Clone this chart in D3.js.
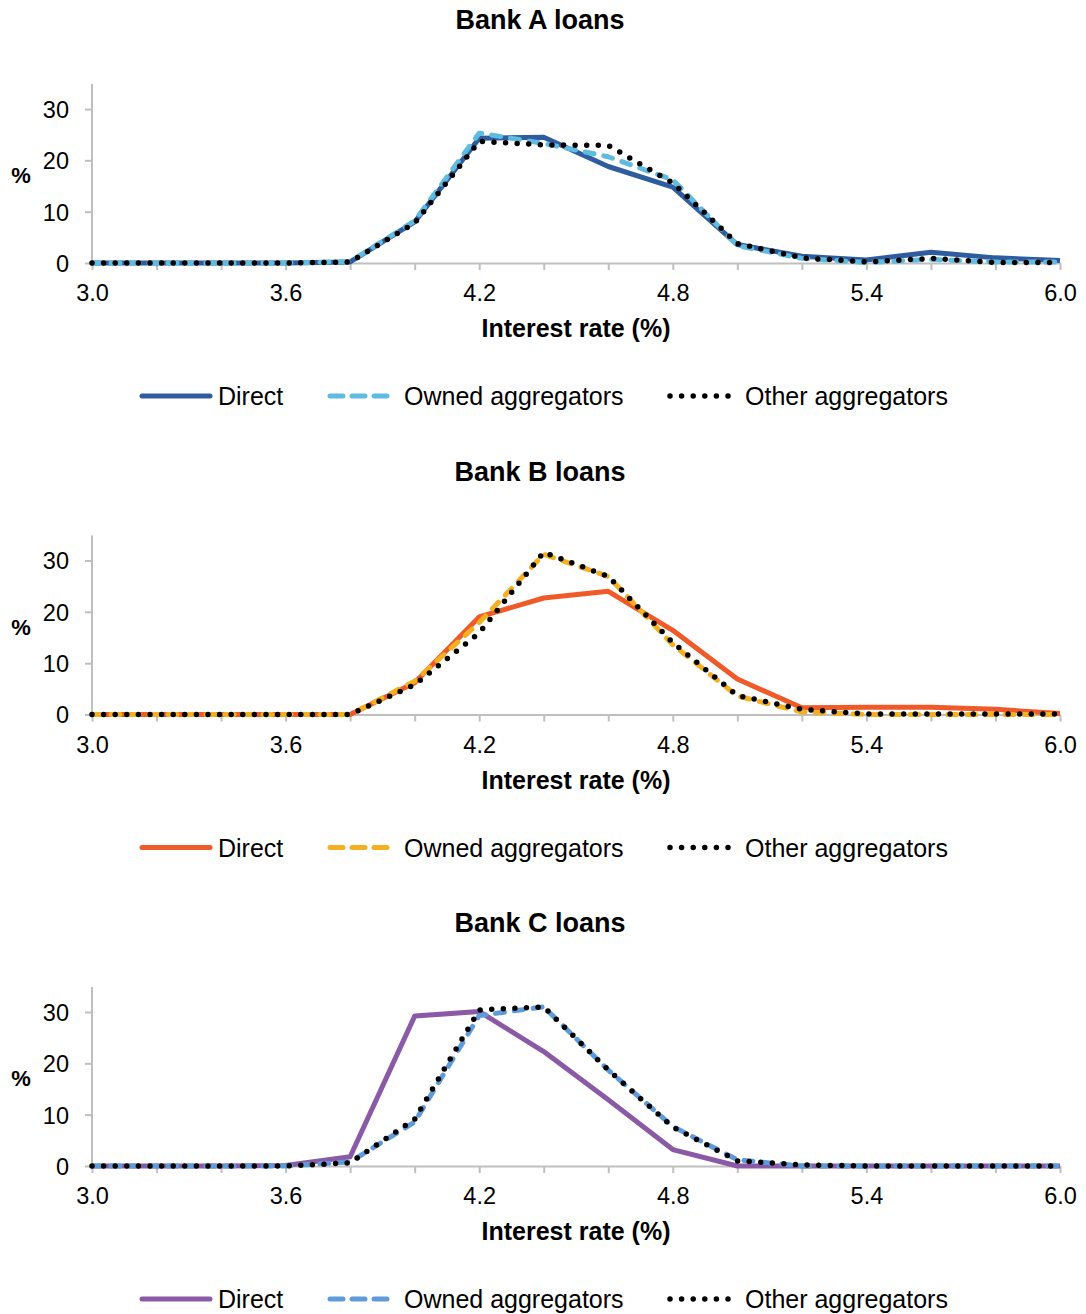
<!DOCTYPE html>
<html>
<head>
<meta charset="utf-8">
<script src="https://cdn.jsdelivr.net/npm/d3@7"></script>
<style>
  html, body { margin: 0; padding: 0; background: #fff; }
  svg { display: block; font-family: "Liberation Sans", Arial, sans-serif; }
</style>
</head>
<body>
<svg id="chart" width="1086" height="1314"></svg>
<script>
// ---- data ----
const rates = [3.0, 3.2, 3.4, 3.6, 3.8, 4.0, 4.2, 4.4, 4.6, 4.8, 5.0, 5.2, 5.4, 5.6, 5.8, 6.0];
const xTickLabels = ["3.0", "3.6", "4.2", "4.8", "5.4", "6.0"];
const yTicks = [0, 10, 20, 30];
const seriesNames = ["Direct", "Owned aggregators", "Other aggregators"];
const panelTitles = ["Bank A loans", "Bank B loans", "Bank C loans"];

const bankADirect = [0, 0, 0, 0, 0.2, 8.0, 24.3, 24.5, 18.8, 14.8, 3.6, 1.3, 0.6, 2.1, 1.0, 0.5];
const bankAOwned  = [0, 0, 0, 0, 0.3, 8.2, 25.3, 23.3, 20.7, 16.2, 3.4, 0.9, 0.1, 0.7, 0.2, 0.2];
const bankAOther  = [0, 0, 0, 0, 0.2, 7.8, 23.7, 23.0, 22.9, 15.6, 3.8, 1.0, 0.2, 0.9, 0.1, 0.1];

const bankBDirect = [0, 0, 0, 0, 0, 6.2, 19.0, 22.7, 24.0, 16.4, 6.9, 1.3, 1.4, 1.4, 1.0, 0.2];
const bankBOwned  = [0, 0, 0, 0, 0, 6.5, 17.9, 31.2, 26.9, 13.6, 3.6, 0.5, 0, 0, 0, 0];
const bankBOther  = [0, 0, 0, 0, 0, 5.8, 15.9, 31.6, 26.9, 14.0, 3.7, 1.0, 0.1, 0.1, 0.1, 0.1];

const bankCDirect = [0, 0, 0, 0.1, 1.8, 29.2, 30.1, 22.3, 12.9, 3.2, 0, 0, 0, 0, 0, 0];
const bankCOwned  = [0, 0, 0, 0, 0.8, 8.6, 29.3, 31.0, 18.7, 7.7, 1.2, 0, 0, 0, 0, 0];
const bankCOther  = [0, 0, 0, 0, 0.6, 9.1, 30.4, 31.0, 18.7, 7.6, 1.0, 0.2, 0, 0, 0, 0];

const panels = [
  { title: panelTitles[0], data: [bankADirect, bankAOwned, bankAOther], colors: ["#2e5c9e", "#5fbbdf", "#000000"] },
  { title: panelTitles[1], data: [bankBDirect, bankBOwned, bankBOther], colors: ["#f05a28", "#f4b020", "#000000"] },
  { title: panelTitles[2], data: [bankCDirect, bankCOwned, bankCOther], colors: ["#8a5aa6", "#5f9bdb", "#000000"] }
];

// ---- layout ----
const svg = d3.select("#chart");
const panelStep = 451.5;
const axisGray = "#bfbfbf";
const x = d3.scaleLinear().domain([3, 6]).range([92, 1060]);
const styles = [
  { width: 5, dash: null, cap: "butt" },
  { width: 5, dash: "9 10", cap: "round" },
  { width: 5.5, dash: "0 11.6", cap: "round" }
];

panels.forEach((p, i) => {
  const off = i * panelStep;
  const g = svg.append("g").attr("transform", `translate(0,${off})`);
  const y0 = 263, yTop = 84;
  const y = d3.scaleLinear().domain([0, 35]).range([y0, y0 - 35 * 5.133]);

  g.append("text").attr("x", 540).attr("y", 29).attr("text-anchor", "middle")
    .attr("font-size", 27).attr("font-weight", "bold").attr("fill", "#000").text(p.title);

  // x axis
  const xa = g.append("g").attr("transform", `translate(0,${y0})`)
    .call(d3.axisBottom(x).tickValues(rates).tickSize(7).tickSizeOuter(0)
      .tickFormat(d => { const s = d.toFixed(1); return xTickLabels.includes(s) ? s : ""; }));
  xa.select(".domain").attr("stroke", axisGray).attr("stroke-width", 2);
  xa.selectAll(".tick line").attr("stroke", axisGray).attr("stroke-width", 2);
  xa.selectAll(".tick text").attr("y", 38).attr("dy", 0).attr("font-size", 23.5)
    .attr("fill", "#000").attr("font-family", "Liberation Sans, Arial, sans-serif");

  // y axis
  const ya = g.append("g").attr("transform", `translate(${x(3)},0)`)
    .call(d3.axisLeft(y).tickValues(yTicks).tickSize(7).tickSizeOuter(0));
  ya.select(".domain").attr("stroke", axisGray).attr("stroke-width", 2)
    .attr("d", `M0,${y0}V${yTop}`);
  ya.selectAll(".tick line").attr("stroke", axisGray).attr("stroke-width", 2);
  ya.selectAll(".tick text").attr("x", -23).attr("dy", "0.36em").attr("font-size", 23.5)
    .attr("fill", "#000").attr("font-family", "Liberation Sans, Arial, sans-serif");

  g.append("text").attr("x", 21).attr("y", 183).attr("text-anchor", "middle")
    .attr("font-size", 22).attr("font-weight", "bold").text("%");

  g.append("text").attr("x", 576).attr("y", 337).attr("text-anchor", "middle")
    .attr("font-size", 25).attr("font-weight", "bold").text("Interest rate (%)");

  // lines
  const line = d3.line().x((d, k) => x(rates[k])).y(d => y(d));
  p.data.forEach((vals, s) => {
    const st = styles[s];
    const path = g.append("path").datum(vals).attr("d", line)
      .attr("fill", "none").attr("stroke", p.colors[s])
      .attr("stroke-width", st.width).attr("stroke-linecap", st.cap)
      .attr("stroke-linejoin", "round");
    if (st.dash) path.attr("stroke-dasharray", st.dash);
  });

  // legend
  const ly = 396;
  const legItems = [
    { x1: 142, x2: 210, tx: 218 },
    { x1: 330, x2: 392, tx: 404 },
    { x1: 670, x2: 735, tx: 745 }
  ];
  legItems.forEach((li, s) => {
    const st = styles[s];
    const l = g.append("line").attr("x1", li.x1).attr("x2", li.x2).attr("y1", ly).attr("y2", ly)
      .attr("stroke", p.colors[s]).attr("stroke-width", st.width)
      .attr("stroke-linecap", s === 0 ? "round" : st.cap);
    if (st.dash) l.attr("stroke-dasharray", s === 1 ? "13 9" : st.dash);
    g.append("text").attr("x", li.tx).attr("y", ly + 9).attr("font-size", 25)
      .attr("fill", "#000").text(seriesNames[s]);
  });
});
</script>
</body>
</html>
